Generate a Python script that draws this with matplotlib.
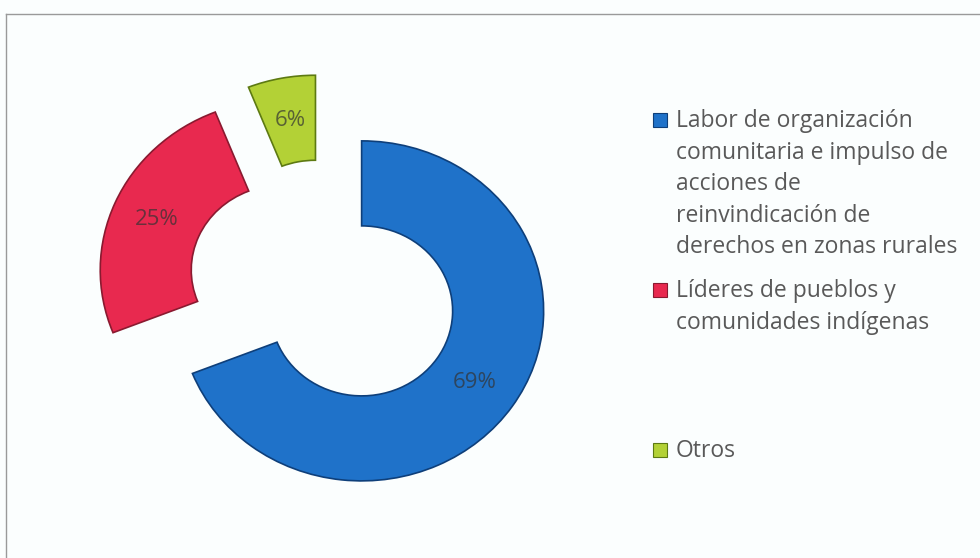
import matplotlib
matplotlib.use("Agg")
import matplotlib.pyplot as plt
from matplotlib.patches import Rectangle
from matplotlib.lines import Line2D

categorias = [
    "Labor de organización\ncomunitaria e impulso de\nacciones de\nreinvindicación de\nderechos en zonas rurales",
    "Líderes de pueblos y\ncomunidades indígenas",
    "Otros",
]
porcentajes = [69, 25, 6]
colores = ["#1f72c9", "#e8294f", "#b3d136"]
bordes = ["#0e3f7a", "#8a1a30", "#5d7a12"]

plt.rcParams["font.family"] = ["Open Sans", "DejaVu Sans"]

fig = plt.figure(figsize=(9.8, 5.58), dpi=100)
fig.patch.set_facecolor("#fbfefe")
ax = fig.add_axes([0, 0, 1, 1])
ax.set_facecolor("none")

wedges, textos, pcts = ax.pie(
    porcentajes,
    colors=colores,
    explode=[0.25, 0.25, 0.25],
    startangle=90,
    counterclock=False,
    autopct="%d%%",
    pctdistance=0.75,
    wedgeprops=dict(width=0.5, linewidth=1.2),
    textprops=dict(fontsize=16, color="#333333"),
)
for w, b in zip(wedges, bordes):
    w.set_edgecolor(b)
for t in pcts:
    t.set_alpha(0.7)

# pie centre at (324, 287) px, radius 182 px wide and 170 px tall
ax.set_aspect("auto")
ax.set_xlim(-324 / 182, (980 - 324) / 182)
ax.set_ylim(-(558 - 287) / 170, 287 / 170)
ax.axis("off")

# frame of the chart area (only top and left edges visible)
fig.add_artist(Line2D([6 / 980, 6 / 980], [0, 1 - 14 / 558], color="#9a9a9a", lw=1))
fig.add_artist(Line2D([6 / 980, 1], [1 - 14 / 558, 1 - 14 / 558], color="#9a9a9a", lw=1))

# legend
tops = [120, 290, 450]
for cat, col, b, y in zip(categorias, colores, bordes, tops):
    fig.add_artist(Rectangle((653 / 980, 1 - (y + 7) / 558), 14 / 980, 14 / 558,
                             facecolor=col, edgecolor=b, lw=0.8))
    fig.text(676 / 980, 1 - (y - 11) / 558, cat, fontsize=16.5, color="#595959",
             va="top", ha="left", linespacing=1.42)

fig.savefig("out.png", dpi=100, facecolor=fig.get_facecolor())
